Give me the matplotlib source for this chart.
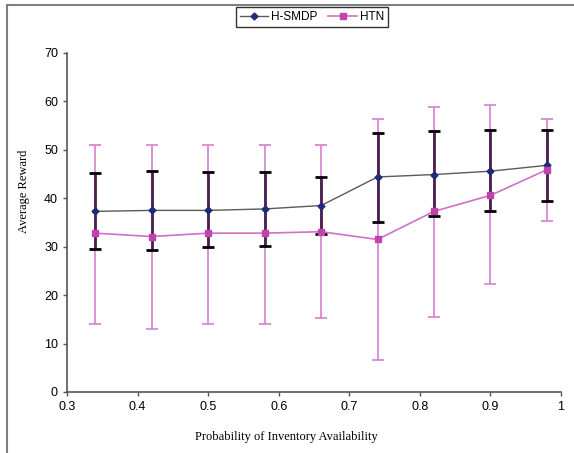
import matplotlib.pyplot as plt
from matplotlib.patches import Rectangle
import numpy as np

# data
prob = [0.34, 0.42, 0.50, 0.58, 0.66, 0.74, 0.82, 0.90, 0.98]

smdp_mean = [37.3, 37.5, 37.5, 37.8, 38.5, 44.4, 44.9, 45.6, 46.8]
smdp_low = [29.6, 29.4, 29.9, 30.2, 32.7, 35.0, 36.4, 37.3, 39.5]
smdp_high = [45.2, 45.6, 45.4, 45.4, 44.4, 53.5, 53.8, 54.0, 54.0]

htn_mean = [32.8, 32.1, 32.8, 32.8, 33.1, 31.5, 37.3, 40.6, 45.9]
htn_low = [14.1, 13.0, 14.1, 14.1, 15.2, 6.6, 15.4, 22.2, 35.3]
htn_high = [51.1, 51.1, 50.9, 51.0, 51.0, 56.3, 58.9, 59.2, 56.3]

x_ticks = [0.3, 0.4, 0.5, 0.6, 0.7, 0.8, 0.9, 1.0]
x_labels = ['0.3', '0.4', '0.5', '0.6', '0.7', '0.8', '0.9', '1']
y_ticks = [0, 10, 20, 30, 40, 50, 60, 70]

plt.rcParams['font.family'] = 'Liberation Sans'

fig = plt.figure(figsize=(5.74, 4.53), dpi=100)
ax = fig.add_axes([67/574, 1-392/453, 494/574, 339/453])

# outer gray frame (top and left only visible)
fig.patches.append(Rectangle((7/574, -0.05), 1.1, 1.05 - 5/453, transform=fig.transFigure,
                             fill=False, edgecolor='#7f7f7f', linewidth=1.5))

pm = np.array(htn_mean)
htn_err = [pm - np.array(htn_low), np.array(htn_high) - pm]
sm = np.array(smdp_mean)
smdp_err = [sm - np.array(smdp_low), np.array(smdp_high) - sm]

# HTN error bars (pink, thin)
ax.errorbar(prob, htn_mean, yerr=htn_err, fmt='none', ecolor='#d67fcf',
            elinewidth=1.2, capsize=4, capthick=1.2, zorder=2)

# H-SMDP error bars (dark, thick, black caps)
eb = ax.errorbar(prob, smdp_mean, yerr=smdp_err, fmt='none', ecolor='#4a1f4f',
                 elinewidth=2, capsize=4.5, capthick=2, zorder=3)
for cap in eb[1]:
    cap.set_markeredgecolor('black')
    cap.set_markerfacecolor('black')

ax.plot(prob, smdp_mean, color='#5a5a5a', linewidth=1, marker='D', markersize=3.5,
        markerfacecolor='#1f2a7a', markeredgecolor='#1f2a7a', label='H-SMDP', zorder=4)
ax.plot(prob, htn_mean, color='#d070c8', linewidth=1.2, marker='s', markersize=5,
        markerfacecolor='#c044ae', markeredgecolor='#c044ae', label='HTN', zorder=4)

ax.set_xlim(0.3, 1.0)
ax.set_ylim(0, 70)
ax.set_xticks(x_ticks)
ax.set_xticklabels(x_labels)
ax.set_yticks(y_ticks)
ax.tick_params(direction='out', length=3, width=1, colors='#555555', labelsize=9,
               labelcolor='black')
for s in ['top', 'right']:
    ax.spines[s].set_visible(False)
for s in ['left', 'bottom']:
    ax.spines[s].set_color('#555555')
    ax.spines[s].set_linewidth(1.2)

ax.set_xlabel('Probability of Inventory Availability', family='Liberation Serif', fontsize=9)
ax.set_ylabel('Average Reward', family='Liberation Serif', fontsize=9)
ax.xaxis.set_label_coords((286-67)/494, -0.115)
ax.yaxis.set_label_coords(-0.075, (392-191)/339)

leg = fig.legend(loc='center', bbox_to_anchor=(312/574, 1-17/453), ncol=2, fontsize=8.5,
                 frameon=True, fancybox=False, edgecolor='black', handlelength=2.4,
                 columnspacing=0.9, handletextpad=0.3, borderpad=0.3)
leg.get_frame().set_linewidth(1)

fig.savefig('out.png', dpi=100)
